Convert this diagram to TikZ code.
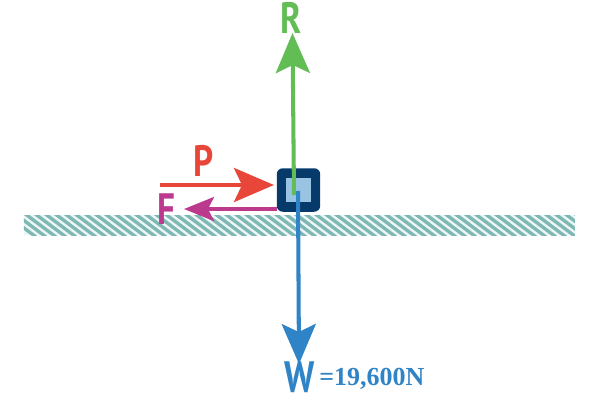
\documentclass[tikz,border=0pt]{standalone}
\usepackage{fontspec}
\usepackage{tikz}
\usetikzlibrary{arrows.meta}
\newfontfamily\forcefont[FakeStretch=0.8]{PT Sans}
\newfontfamily\valuefont{Liberation Serif}
\definecolor{force_green}{HTML}{62BD55}
\definecolor{force_red}{HTML}{E9463A}
\definecolor{force_magenta}{HTML}{BC3A8E}
\definecolor{force_blue}{HTML}{2E84C6}
\definecolor{box_dark}{HTML}{053A6B}
\definecolor{box_light}{HTML}{98C3E3}
\definecolor{ground_teal}{HTML}{7DB8B5}
\definecolor{ground_pale}{HTML}{EEF6F6}

\begin{document}
\begin{tikzpicture}[x=0.02cm, y=-0.02cm,
        force_label/.style={inner sep=0pt,font=\forcefont\fontsize{25}{25}\selectfont\bfseries},
        big_tip/.style={-{Stealth[length=0.8cm,width=0.68cm,inset=0.16cm]}},
        small_tip/.style={-{Stealth[length=0.6cm,width=0.48cm,inset=0.12cm]}},
        force_style/.style={line width=2.3pt,big_tip}]

        \useasboundingbox (0,0) rectangle (600,400);

        % ground
        \fill [ground_pale] (24,215) rectangle (575,235);
        \begin{scope}
            \clip (24,215) rectangle (575,235);
            \foreach \x in {0,10,...,590}
                \draw [ground_teal, line width=1.9pt] (\x,210) -- (\x+40,240);
        \end{scope}

        % block
        \node [draw=none,fill=box_dark,rounded corners=0.12cm,minimum size=0.87cm,inner sep=0pt](box_outer) at (298.5,190) {};
        \node [fill=box_light,minimum size=0.49cm,inner sep=0pt](box_inner) at (298.5,190) {};

        \coordinate (r_start) at (294,195);
        \coordinate (r_end) at (292.5,33);
        \coordinate (w_start) at (298,191);
        \coordinate (w_end) at (299,364);
        \coordinate (p_start) at (160,185);
        \coordinate (p_end) at (274,185);
        \coordinate (f_start) at (277,209);
        \coordinate (f_end) at (184,209);

        \draw [force_style,force_green] (r_start) -- (r_end);
        \draw [force_style,force_blue] (w_start) -- (w_end);
        \draw [force_style,force_red] (p_start) -- (p_end);
        \draw [force_magenta,line width=1.9pt,small_tip] (f_start) -- (f_end);

        \node [force_label,text=force_green](r_label) at (291,18) {R};
        \node [force_label,text=force_red](p_label) at (204,161) {P};
        \node [force_label,text=force_magenta](f_label) at (166,209) {F};
        \node [force_label,text=force_blue](w_label) at (300,377) {W};
        \node [inner sep=0pt,anchor=west,text=force_blue,font=\valuefont\fontsize{14.8}{15}\selectfont\bfseries](w_value) at (319,378.5) {=19,600N};
\end{tikzpicture}
\end{document}
